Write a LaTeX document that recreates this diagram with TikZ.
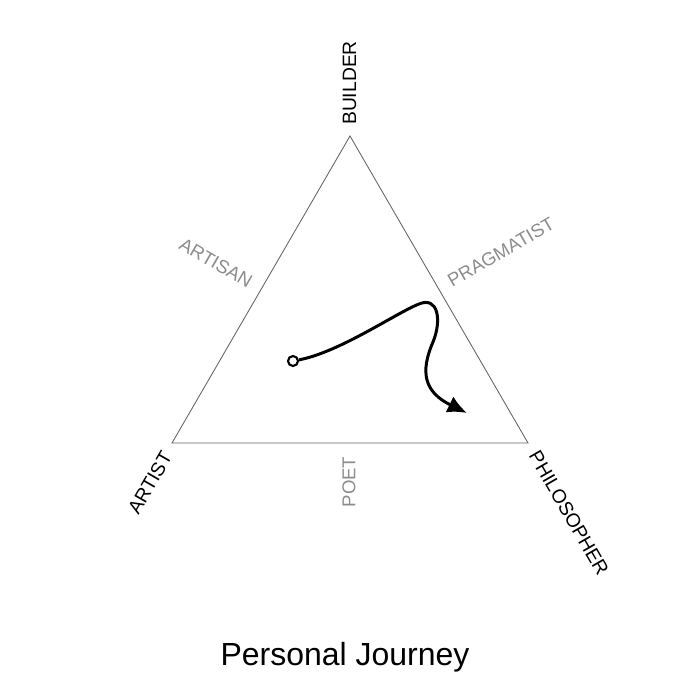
\documentclass[tikz,border=0pt]{standalone}
\usepackage{fontspec}
\setmainfont{Liberation Sans}
\usetikzlibrary{arrows.meta}

\begin{document}
\begin{tikzpicture}[x=0.02cm, y=-0.02cm]
		\tikzstyle{corner}=[font=\fontsize{11}{13}\selectfont, text=black, inner sep=0pt]
		\tikzstyle{side}=[font=\fontsize{10.6}{13}\selectfont, text=black!45, inner sep=0pt]
		
		\useasboundingbox (0,0) rectangle (700,700);
		
		\coordinate (B) at (350,136);
		\coordinate (A) at (172,443);
		\coordinate (P) at (528,443);
		\draw[black!60, line width=0.5pt] (B) -- (A) -- (P) -- cycle;
		
		\node[corner, rotate=90]  (builder)     at (349.5,83) {BUILDER};
		\node[corner, rotate=60]  (artist)      at (150,483)  {ARTIST};
		\node[corner, rotate=-60] (philosopher) at (569,513)  {PHILOSOPHER};
		\node[side, rotate=-30]   (artisan)     at (216,263)  {ARTISAN};
		\node[side, rotate=30]    (pragmatist)  at (501,252)  {PRAGMATIST};
		\node[side, rotate=90]    (poet)        at (349,482)  {POET};
		
		\node[draw, circle, line width=1.2pt, minimum size=0.2cm, inner sep=0pt] (start) at (293,361) {};
		\coordinate (finish) at (467,413);
		\draw[-{Latex[length=11pt, width=10pt]}, line width=1.7pt]
		(start) .. controls (340,352) and (396,313) .. (419,304)
		        .. controls (438,296) and (442,320) .. (433,342)
		        .. controls (420,372) and (424,392) .. (finish);
		
		\node[font=\fontsize{18.2}{22}\selectfont] (title) at (345,657) {Personal Journey};
\end{tikzpicture}
\end{document}
